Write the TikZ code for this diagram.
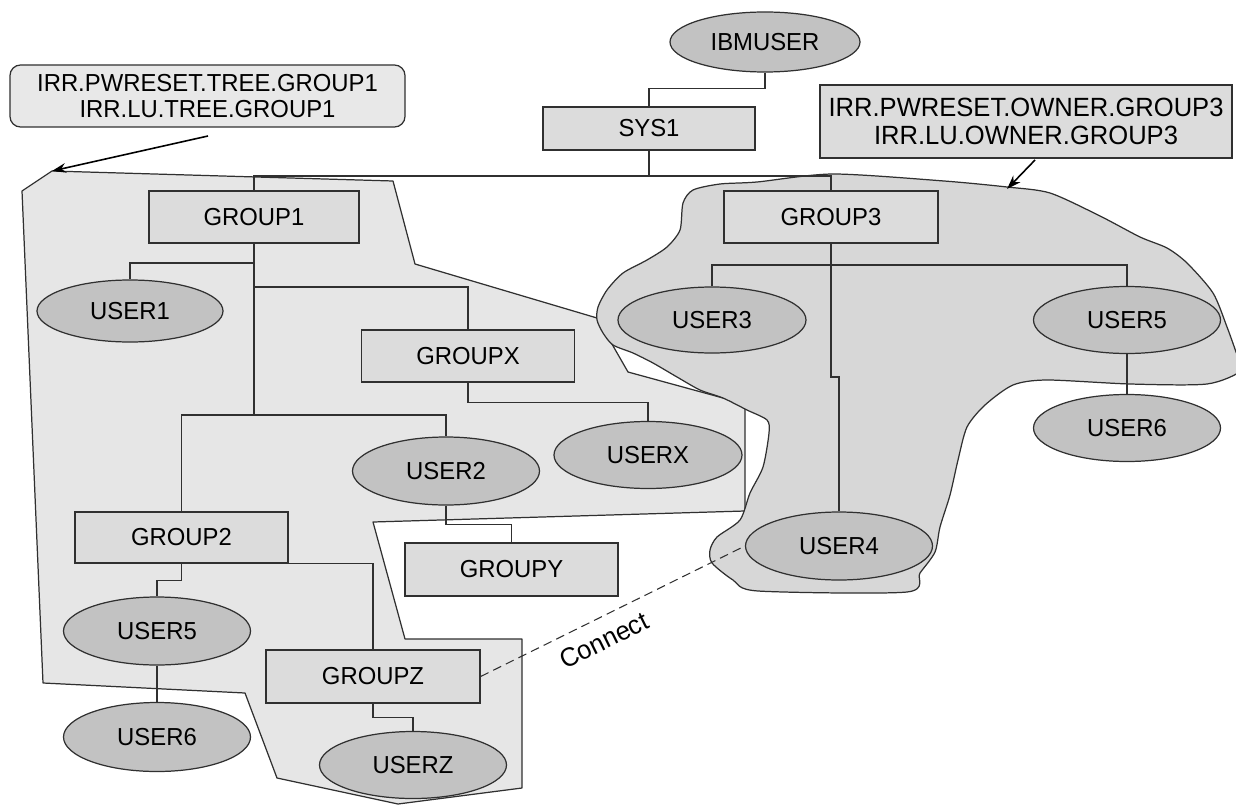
\documentclass[tikz,border=0pt]{standalone}
\usepackage{fontspec}
\setmainfont{Liberation Sans}[FakeStretch=0.97]
\usetikzlibrary{shapes.geometric,arrows.meta}
\definecolor{boxfill}{HTML}{DCDCDC}
\definecolor{ellfill}{HTML}{C2C2C2}
\definecolor{polyfill}{HTML}{E6E6E6}
\definecolor{blobfill}{HTML}{D7D7D7}
\definecolor{notefill}{HTML}{E8E8E8}
\definecolor{lineclr}{HTML}{303030}
\begin{document}
\begin{tikzpicture}[x=0.02cm,y=-0.02cm,
  sz/.style 2 args={minimum width=#1*0.02cm, minimum height=#2*0.02cm},
  gbox/.style={draw=lineclr, fill=boxfill, line width=0.7pt, inner sep=0pt, font=\fontsize{14}{16}\selectfont},
  uell/.style={ellipse, draw=lineclr, fill=ellfill, line width=0.7pt, inner sep=0pt, font=\fontsize{14}{16}\selectfont},
  conn/.style={draw=lineclr, line width=0.6pt},
  region/.style={draw=lineclr, line width=0.7pt, line join=round},
  arr/.style={draw=black, line width=0.9pt, -{Stealth[length=8pt,width=5.5pt]}}]
\useasboundingbox (0,0) rectangle (1236,804);

% left region (tree of GROUP1)
\draw[region, fill=polyfill] (52,171) -- (393,181) -- (415,264) -- (597,318) -- (628,372) -- (745,404) -- (745,511) -- (373,522) -- (405,639) -- (522,639) -- (522,788) -- (398,804) -- (277,778) -- (245,693) -- (43,683) -- (22,191) -- cycle;

% right region (owner GROUP3)
\draw[region, fill=blobfill] plot[smooth cycle, tension=0.45] coordinates {
 (833,174) (944,181) (1007,187) (1050,193) (1100,216) (1140,237) (1167,248) (1187,263)
 (1213,293) (1227,327) (1236,352) (1242,370) (1207,384) (1130,384) (1047,380) (1013,385)
 (985,405) (967,427) (958,460) (950,495) (940,527) (935,552) (920,573) (907,592)
 (758,591) (733,580) (712,563) (710,550) (717,537) (740,520) (750,493) (763,467)
 (769,433) (767,420) (747,410) (723,398) (700,390) (677,377) (653,363) (633,353)
 (613,345) (603,333) (597,320) (598,307) (607,290) (623,273) (647,260) (667,247)
 (680,230) (683,203) (693,190) (720,184) (757,182)};

% notes
\node[draw=lineclr, fill=notefill, line width=0.7pt, rounded corners=6pt, sz={395}{62}, inner sep=0pt, align=center, font=\fontsize{14}{14.5}\selectfont] (n1) at (207.5,96) {IRR.PWRESET.TREE.GROUP1\\IRR.LU.TREE.GROUP1};
\node[draw=lineclr, fill=boxfill, line width=0.7pt, sz={412}{73}, inner sep=0pt, align=center, font=\fontsize{15}{16}\selectfont] (n2) at (1026,121.5) {IRR.PWRESET.OWNER.GROUP3\\IRR.LU.OWNER.GROUP3};

% nodes
\node[uell, sz={190}{60}] (ibm) at (765,42) {IBMUSER};
\node[gbox, sz={212}{43}] (sys1) at (649,128.5) {SYS1};
\node[gbox, sz={210}{52}] (g1) at (254,217) {GROUP1};
\node[gbox, sz={214}{52}] (g3) at (831,217) {GROUP3};
\node[gbox, sz={213}{52}] (gx) at (468,356) {GROUPX};
\node[gbox, sz={213}{51}] (g2) at (181.5,537.5) {GROUP2};
\node[gbox, sz={213}{53}] (gy) at (511.5,569.5) {GROUPY};
\node[gbox, sz={214}{53}] (gz) at (373,676.5) {GROUPZ};

\node[uell, sz={186}{62}] (u1) at (130,311) {USER1};
\node[uell, sz={188}{67}] (ux) at (648,455) {USERX};
\node[uell, sz={187}{68}] (u2) at (446,471) {USER2};
\node[uell, sz={188}{66}] (u3) at (712,320) {USER3};
\node[uell, sz={187}{67}] (u5r) at (1127,320) {USER5};
\node[uell, sz={187}{67}] (u6r) at (1127,428) {USER6};
\node[uell, sz={187}{68}] (u4) at (839,546) {USER4};
\node[uell, sz={187}{68}] (u5l) at (157,631) {USER5};
\node[uell, sz={187}{69}] (u6l) at (157,737) {USER6};
\node[uell, sz={187}{67}] (uz) at (413,765) {USERZ};

% helper levels
\coordinate (ybus) at (0,176);
\coordinate (y263) at (0,263);
\coordinate (y287) at (0,287);
\coordinate (y415) at (0,415);
\coordinate (y265) at (0,265);
\coordinate (y377) at (0,377);

% connectors
\draw[conn] (ibm.south) -- ++(0,16) -| (sys1.north);
\draw[conn] (sys1.south) -- (sys1.south |- ybus);
\draw[conn] (g1.north) -- (g1.north |- ybus) -- (g3.north |- ybus) -- (g3.north);

\draw[conn] (g1.south) -- (g1.south |- y415);
\draw[conn] (g1.south |- y263) -| (u1.north);
\draw[conn] (g1.south |- y287) -| (gx.north);
\draw[conn] (gx.south) -- ++(0,20) -| (ux.north);
\draw[conn] (g2.north) |- (u2.north |- y415) -- (u2.north);
\draw[conn] (u2.south) -- ++(0,19) -| (gy.north);
\draw[conn] (g2.south) -- ++(0,17) -| (u5l.north);
\draw[conn] (g2.south east) -| (gz.north);
\draw[conn] (u5l.south) -- (u6l.north);
\draw[conn] (gz.south) -- ++(0,14) -| (uz.north);

\draw[conn] (g3.south) -- (g3.south |- y377) -| (u4.north);
\draw[conn] (u3.north) |- (u5r.north |- y265) -- (u5r.north);
\draw[conn] (u5r.south) -- (u6r.north);

\draw[conn, dash pattern=on 5pt off 3pt] (gz.east) -- (u4.west)
  node[pos=0.43, sloped, below=6pt, inner sep=1pt, font=\fontsize{15}{16}\selectfont] (clab) {Connect};

% arrows from the notes
\coordinate (a1) at (208,136);
\coordinate (tl) at (52,171);
\draw[arr] (a1) -- (tl);
\coordinate (a2) at (1035,160);
\coordinate (bt) at (1007,189);
\draw[arr] (a2) -- (bt);
\end{tikzpicture}
\end{document}
